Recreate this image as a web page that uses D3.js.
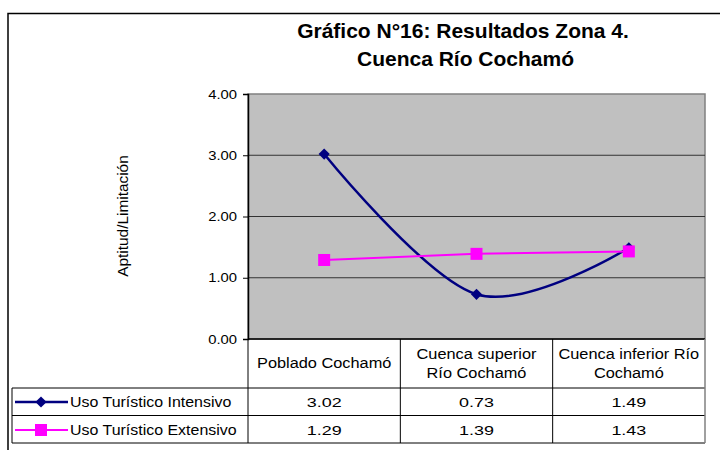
<!DOCTYPE html>
<html>
<head>
<meta charset="utf-8">
<script src="https://cdn.jsdelivr.net/npm/d3@7"></script>
<style>
  body { margin: 0; background: #fff; }
  text { font-family: "Liberation Sans", Arial, sans-serif; fill: #000; }
</style>
</head>
<body>
<svg id="chart" width="720" height="450"></svg>
<script>
// data
const categories = [["Poblado Cochamó"], ["Cuenca superior", "Río Cochamó"], ["Cuenca inferior Río", "Cochamó"]];
const seriesNames = ["Uso Turístico Intensivo", "Uso Turístico Extensivo"];
const intensivo = [3.02, 0.73, 1.49];
const extensivo = [1.29, 1.39, 1.43];
const yTicks = [0, 1, 2, 3, 4];

const svg = d3.select("#chart");

// the source text is a bit wider than plain Arial, so stretch it sideways
function label(x, y, str, size, sx, anchor) {
  return svg.append("text")
    .attr("transform", `translate(${x},${y}) scale(${sx},1)`)
    .attr("text-anchor", anchor || "middle")
    .attr("font-size", size)
    .text(str);
}

// outer frame (runs off right and bottom)
svg.append("path")
  .attr("d", "M8,450 V13.5 H720")
  .attr("fill", "none").attr("stroke", "#000").attr("stroke-width", 1.5);

// title
label(463, 38, "Gráfico N°16: Resultados Zona 4.", 21, 1).attr("font-weight", "bold");
label(465.5, 66, "Cuenca Río Cochamó", 21, 1).attr("font-weight", "bold");

const pLeft = 248, pRight = 705, pTop = 94, pBottom = 339;

const x = d3.scaleBand().domain(d3.range(categories.length)).range([pLeft, pRight]);
const y = d3.scaleLinear().domain([0, 4]).range([pBottom, pTop]);
const cx = i => x(i) + x.bandwidth() / 2;

// plot background
svg.append("rect")
  .attr("x", pLeft).attr("y", pTop).attr("width", pRight - pLeft).attr("height", pBottom - pTop)
  .attr("fill", "#c0c0c0").attr("stroke", "#808080").attr("stroke-width", 1.5);

// gridlines
svg.selectAll(".grid").data(yTicks.filter(d => d > 0 && d < 4)).enter()
  .append("line")
  .attr("x1", pLeft).attr("x2", pRight)
  .attr("y1", d => y(d)).attr("y2", d => y(d))
  .attr("stroke", "#333").attr("stroke-width", 1);

// y axis
const tickSx = 1.14;
const yAxis = d3.axisLeft(y).tickValues(yTicks).tickFormat(d3.format(".2f")).tickSize(5).tickPadding(6);
const ga = svg.append("g").attr("transform", `translate(${pLeft},0)`).call(yAxis);
ga.select(".domain").attr("stroke", "#000").attr("stroke-width", 1.5);
ga.selectAll(".tick line").attr("stroke", "#000");
ga.selectAll("text")
  .attr("font-size", 13).attr("font-family", "Liberation Sans, Arial, sans-serif")
  .attr("x", -11 / tickSx)
  .attr("transform", `scale(${tickSx},1)`);

// y axis title
svg.append("text")
  .attr("transform", "translate(128,216) rotate(-90) scale(1.1,1)")
  .attr("text-anchor", "middle").attr("font-size", 14)
  .text("Aptitud/Limitación");

// data table
const rowTop = 339, rowCat = 388, row1 = 415.5, row2 = 443, legLeft = 12;
const tbl = svg.append("g").attr("stroke", "#000").attr("stroke-width", 1);
tbl.append("line").attr("x1", pLeft).attr("x2", pRight).attr("y1", rowTop).attr("y2", rowTop).attr("stroke-width", 1.5);
[rowCat, row1, row2].forEach(yy => {
  tbl.append("line").attr("x1", legLeft).attr("x2", pRight).attr("y1", yy).attr("y2", yy);
});
tbl.append("line").attr("x1", legLeft).attr("x2", legLeft).attr("y1", rowCat).attr("y2", row2);
d3.range(categories.length + 1).forEach(i => {
  const xx = i < categories.length ? x(i) : pRight;
  tbl.append("line").attr("x1", xx).attr("x2", xx).attr("y1", rowTop).attr("y2", row2)
    .attr("stroke", i === categories.length ? "#808080" : "#000")
    .attr("stroke-width", i === categories.length ? 1.5 : 1);
});

// category labels
categories.forEach((lines, i) => {
  const y0 = lines.length === 1 ? 368 : 359;
  lines.forEach((s, j) => label(cx(i), y0 + j * 19, s, 15, 1.09));
});

// values in table
[intensivo, extensivo].forEach((vals, r) => {
  const yy = r === 0 ? 407 : 434.5;
  vals.forEach((v, i) => label(cx(i), yy, v.toFixed(2), 13, 1.38));
});

const colors = ["#000080", "#ff00ff"];
const diamond = d3.symbol().type(d3.symbolDiamond2).size(80);

// legend keys
seriesNames.forEach((name, r) => {
  const yy = r === 0 ? 402 : 430;
  svg.append("line").attr("x1", 15).attr("x2", 68).attr("y1", yy).attr("y2", yy)
    .attr("stroke", colors[r]).attr("stroke-width", r === 0 ? 2.5 : 2);
  if (r === 0) {
    svg.append("path").attr("d", diamond()).attr("transform", `translate(41,${yy})`).attr("fill", colors[0]);
  } else {
    svg.append("rect").attr("x", 35).attr("y", yy - 6).attr("width", 12).attr("height", 12).attr("fill", colors[1]);
  }
  label(70, yy + 5, name, 14, 1.14, "start");
});

// series
const smooth = d3.line().x((d, i) => cx(i)).y(d => y(d)).curve(d3.curveCatmullRom.alpha(0));
const straight = d3.line().x((d, i) => cx(i)).y(d => y(d));

svg.append("path").datum(intensivo).attr("d", smooth)
  .attr("fill", "none").attr("stroke", colors[0]).attr("stroke-width", 2.5);
svg.selectAll(".dia").data(intensivo).enter().append("path")
  .attr("d", diamond())
  .attr("transform", (d, i) => `translate(${cx(i)},${y(d)})`)
  .attr("fill", colors[0]);

svg.append("path").datum(extensivo).attr("d", straight)
  .attr("fill", "none").attr("stroke", colors[1]).attr("stroke-width", 2);
svg.selectAll(".sq").data(extensivo).enter().append("rect")
  .attr("x", (d, i) => cx(i) - 6).attr("y", d => y(d) - 6)
  .attr("width", 12).attr("height", 12)
  .attr("fill", colors[1]);
</script>
</body>
</html>
